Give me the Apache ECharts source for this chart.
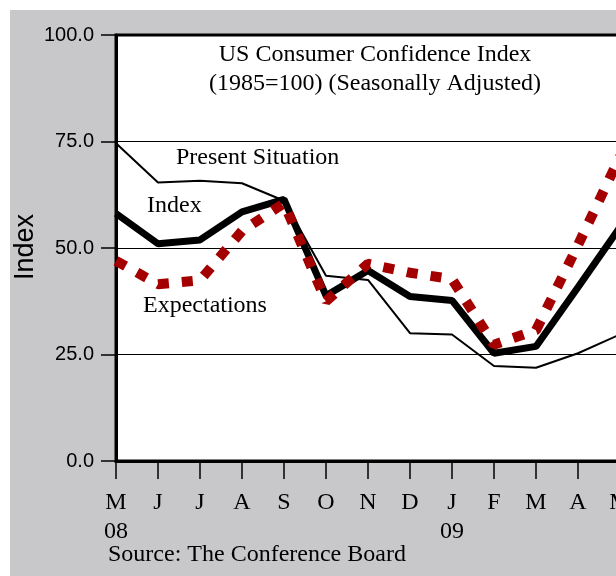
<!DOCTYPE html>
<html>
<head>
<meta charset="UTF-8">
<title>US Consumer Confidence Index</title>
<script src="https://cdn.jsdelivr.net/npm/echarts@6/dist/echarts.min.js"></script>
<style>
  html, body { margin: 0; padding: 0; background: #fff; }
  #main { width: 616px; height: 576px; }
</style>
</head>
<body>
<div id="main"></div>
<script>
// months (May 2008 .. May 2009)
var months = ['M', 'J', 'J', 'A', 'S', 'O', 'N', 'D', 'J', 'F', 'M', 'A', 'M'];
var years = ['08', '', '', '', '', '', '', '', '09', '', '', '', ''];
var yTicks = [0, 25, 50, 75, 100];

var presentSituation = [74.6, 65.4, 65.8, 65.2, 61.1, 43.5, 42.5, 30.0, 29.7, 22.3, 21.9, 25.3, 29.7];
var indexValues = [58.1, 51.0, 51.9, 58.5, 61.4, 38.8, 44.7, 38.6, 37.7, 25.3, 26.9, 40.8, 54.9];
var expectations = [47.0, 41.5, 42.4, 54.0, 60.5, 37.5, 46.3, 44.2, 42.7, 27.3, 30.7, 50.7, 71.5];

var serif = '"Liberation Serif", "Times New Roman", serif';
var sans = '"Liberation Sans", Arial, sans-serif';

var chart = echarts.init(document.getElementById('main'));

var option = {
    backgroundColor: '#c8c8ca',
    animation: false,
    title: {
        text: 'US Consumer Confidence Index\n(1985=100) (Seasonally Adjusted)',
        left: 370,
        top: 35,
        textAlign: 'center',
        textStyle: { fontFamily: serif, fontSize: 24, fontWeight: 'normal', color: '#000', lineHeight: 29 }
    },
    grid: {
        left: 116,
        top: 35,
        bottom: 115,
        width: 504,
        outerBoundsMode: 'none',
        show: true,
        backgroundColor: '#fff',
        borderColor: '#000',
        borderWidth: 3
    },
    xAxis: {
        type: 'category',
        data: months,
        boundaryGap: false,
        axisLine: { lineStyle: { color: '#000', width: 3 } },
        axisTick: { show: true, inside: false, length: 18, lineStyle: { color: '#000', width: 1.5 } },
        axisLabel: {
            margin: 27,
            interval: 0,
            fontFamily: serif,
            fontSize: 24,
            color: '#000',
            lineHeight: 29,
            formatter: function (v, i) {
                return years[i] ? v + '\n' + years[i] : v + '\n ';
            }
        },
        splitLine: { show: false }
    },
    yAxis: {
        type: 'value',
        min: 0,
        max: 100,
        interval: 25,
        axisLine: { show: true, lineStyle: { color: '#000', width: 3 } },
        axisTick: { show: true, length: 15, lineStyle: { color: '#000', width: 1.5 } },
        axisLabel: {
            margin: 22,
            fontFamily: sans,
            fontSize: 20,
            color: '#000',
            formatter: function (v) { return yTicks.indexOf(v) >= 0 ? v.toFixed(1) : ''; }
        },
        splitLine: { show: true, lineStyle: { color: '#000', width: 1 } }
    },
    series: [
        {
            name: 'Present Situation',
            type: 'line',
            data: presentSituation,
            symbol: 'none',
            z: 2,
            lineStyle: { color: '#000', width: 2 }
        },
        {
            name: 'Index',
            type: 'line',
            data: indexValues,
            symbol: 'none',
            z: 3,
            lineStyle: { color: '#000', width: 7 }
        },
        {
            name: 'Expectations',
            type: 'line',
            data: expectations,
            symbol: 'none',
            z: 4,
            lineStyle: { color: '#a50000', width: 10, type: [11, 13], cap: 'butt' }
        }
    ],
    graphic: [
        { type: 'rect', left: 0, top: 0, shape: { width: 616, height: 10 }, style: { fill: '#fff' }, silent: true },
        { type: 'rect', left: 0, top: 0, shape: { width: 10, height: 576 }, style: { fill: '#fff' }, silent: true },
        {
            type: 'text', x: 26, y: 247, rotation: Math.PI / 2,
            style: { text: 'Index', font: '27px ' + sans, fill: '#000', textAlign: 'center', textVerticalAlign: 'middle' }
        },
        { type: 'text', left: 176, top: 146, style: { text: 'Present Situation', font: '24px ' + serif, fill: '#000' } },
        { type: 'text', left: 147, top: 194, style: { text: 'Index', font: '24px ' + serif, fill: '#000' } },
        { type: 'text', left: 143, top: 294, style: { text: 'Expectations', font: '24px ' + serif, fill: '#000' } },
        { type: 'text', left: 108, top: 543, style: { text: 'Source: The Conference Board', font: '24px ' + serif, fill: '#000' } }
    ]
};

chart.setOption(option);
</script>
</body>
</html>
